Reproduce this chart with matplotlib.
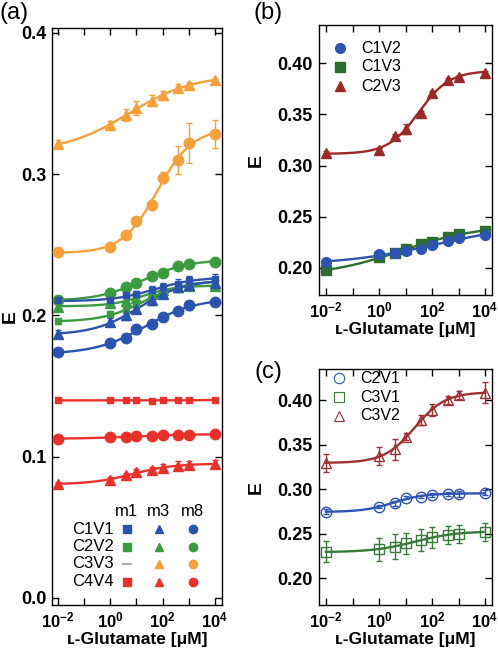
import numpy as np
import matplotlib
matplotlib.use('Agg')
import matplotlib.pyplot as plt

plt.rcParams['font.family'] = ['Liberation Sans', 'DejaVu Sans']
plt.rcParams['mathtext.fontset'] = 'custom'
plt.rcParams['mathtext.bf'] = 'Liberation Sans:bold'
plt.rcParams['mathtext.rm'] = 'Liberation Sans'
plt.rcParams['mathtext.it'] = 'Liberation Sans:italic'

# ---------------- data ----------------
glu = [0.01, 1, 4, 10, 40, 100, 400, 1000, 10000]

# panel (a)
a_c1v1_m1 = [0.2106, 0.2106, 0.2142, 0.2154, 0.2178, 0.2201, 0.2225, 0.2249, 0.2260]
a_c1v1_m3 = [0.1870, 0.1953, 0.2000, 0.2045, 0.2106, 0.2154, 0.2199, 0.2216, 0.2230]
a_c1v1_m8 = [0.1740, 0.1804, 0.1842, 0.1901, 0.1941, 0.1988, 0.2031, 0.2071, 0.2094]
a_c2v2_m1 = [0.1958, 0.2012, 0.2035, 0.2071, 0.2125, 0.2165, 0.2205, 0.2220, 0.2235]
a_c2v2_m3 = [0.2062, 0.2087, 0.2105, 0.2120, 0.2155, 0.2180, 0.2200, 0.2206, 0.2205]
a_c2v2_m8 = [0.2111, 0.2156, 0.2199, 0.2231, 0.2277, 0.2304, 0.2350, 0.2363, 0.2380]
a_c3v3_m3 = [0.3214, 0.3349, 0.3420, 0.3467, 0.3520, 0.3562, 0.3610, 0.3633, 0.3664]
a_c3v3_m8 = [0.2450, 0.2485, 0.2568, 0.2668, 0.2781, 0.2975, 0.3100, 0.3219, 0.3283]
a_c4v4_m1 = [0.1399, 0.1399, 0.1399, 0.1399, 0.1397, 0.1399, 0.1399, 0.1399, 0.1403]
a_c4v4_m3 = [0.0809, 0.0837, 0.0867, 0.0891, 0.0908, 0.0920, 0.0936, 0.0943, 0.0950]
a_c4v4_m8 = [0.1128, 0.1137, 0.1140, 0.1144, 0.1149, 0.1151, 0.1156, 0.1156, 0.1158]

a_err_c1v1_m1 = [0.002, 0.002, 0.002, 0.002, 0.003, 0.003, 0.003, 0.003, 0.003]
a_err_c1v1_m3 = [0.003, 0.003, 0.003, 0.003, 0.003, 0.003, 0.003, 0.003, 0.003]
a_err_c1v1_m8 = [0.001, 0.001, 0.003, 0.003, 0.003, 0.002, 0.002, 0.003, 0.002]
a_err_c2v2_m1 = [0.002, 0.002, 0.003, 0.003, 0.003, 0.003, 0.003, 0.003, 0.003]
a_err_c2v2_m3 = [0.003, 0.002, 0.002, 0.002, 0.002, 0.002, 0.002, 0.002, 0.002]
a_err_c2v2_m8 = [0.003, 0.002, 0.002, 0.002, 0.002, 0.002, 0.003, 0.003, 0.003]
a_err_c3v3_m3 = [0.003, 0.003, 0.004, 0.005, 0.004, 0.003, 0.003, 0.002, 0.002]
a_err_c3v3_m8 = [0.001, 0.001, 0.001, 0.003, 0.003, 0.004, 0.010, 0.014, 0.010]
a_err_c4v4_m1 = [0.001, 0.001, 0.001, 0.001, 0.001, 0.001, 0.001, 0.001, 0.001]
a_err_c4v4_m3 = [0.001, 0.002, 0.002, 0.002, 0.002, 0.003, 0.003, 0.003, 0.003]
a_err_c4v4_m8 = [0.001, 0.001, 0.001, 0.001, 0.001, 0.001, 0.001, 0.001, 0.001]

# panel (b)
b_c1v2 = [0.2059, 0.2131, 0.2147, 0.2160, 0.2180, 0.2222, 0.2261, 0.2287, 0.2320]
b_c1v3 = [0.1977, 0.2101, 0.2141, 0.2180, 0.2232, 0.2254, 0.2303, 0.2330, 0.2362]
b_c2v3 = [0.3120, 0.3150, 0.3289, 0.3355, 0.3511, 0.3707, 0.3837, 0.3870, 0.3909]
b_err_c1v2 = [0.002, 0.002, 0.002, 0.002, 0.002, 0.002, 0.002, 0.002, 0.004]
b_err_c1v3 = [0.002, 0.002, 0.002, 0.002, 0.002, 0.002, 0.002, 0.002, 0.002]
b_err_c2v3 = [0.002, 0.002, 0.002, 0.005, 0.002, 0.002, 0.002, 0.002, 0.002]

# panel (c)
c_c2v1 = [0.2747, 0.2803, 0.2841, 0.2905, 0.2916, 0.2934, 0.2946, 0.2946, 0.2960]
c_c3v1 = [0.2298, 0.2324, 0.2354, 0.2392, 0.2429, 0.2459, 0.2486, 0.2497, 0.2523]
c_c3v2 = [0.3297, 0.3372, 0.3446, 0.3589, 0.3776, 0.3888, 0.4000, 0.4056, 0.4082]
c_err_c2v1 = [0.003, 0.002, 0.003, 0.002, 0.002, 0.002, 0.002, 0.003, 0.003]
c_err_c3v1 = [0.012, 0.013, 0.014, 0.012, 0.012, 0.012, 0.010, 0.010, 0.010]
c_err_c3v2 = [0.010, 0.010, 0.012, 0.004, 0.006, 0.007, 0.005, 0.005, 0.012]

# ---------------- colours ----------------
BLUE = '#2c53ac'
GREEN = '#3c9a40'
ORANGE = '#f4a03c'
RED = '#e8312b'
BLUE_B = '#2d54b0'
GREEN_B = '#2e6e31'
RED_B = '#9a2a28'
GREEN_C = '#3a7a3a'
RED_C = '#9a3232'

YTICK_FS = 13
XTICK_FS = 12
XLAB_FS = 12.5
YLAB_FS = 14
LEG_FS = 12


def hill_fit(x, y):
    lx = np.log10(np.asarray(x, float))
    y = np.asarray(y, float)
    best = None
    for lec in np.linspace(-2.5, 4.5, 141):
        for n in np.linspace(0.2, 2.5, 47):
            f = 1.0 / (1.0 + 10 ** (n * (lec - lx)))
            A = np.vstack([np.ones_like(f), f]).T
            coef, *_ = np.linalg.lstsq(A, y, rcond=None)
            r = np.sum((A @ coef - y) ** 2)
            if best is None or r < best[0]:
                best = (r, lec, n, coef)
    _, lec, n, coef = best
    xs = np.logspace(-2, 4, 300)
    fs = 1.0 / (1.0 + 10 ** (n * (lec - np.log10(xs))))
    return xs, coef[0] + coef[1] * fs


def series(ax, x, y, err, color, marker, ms, fill=True, lw=1.7, mew=1.0):
    xs, ys = hill_fit(x, y)
    ax.plot(xs, ys, '-', color=color, lw=lw, zorder=2)
    ax.errorbar(x, y, yerr=err, fmt='none', ecolor=color, elinewidth=1.0,
                capsize=2.5, capthick=1.0, zorder=3)
    if fill:
        ax.plot(x, y, linestyle='none', marker=marker, ms=ms, color=color,
                mec=color, zorder=4)
    else:
        ax.plot(x, y, linestyle='none', marker=marker, ms=ms, mfc='none',
                mec=color, mew=mew, zorder=4)


def style_axes(ax, xl, yl, yticks, ylabels):
    ax.set_xscale('log')
    ax.set_xlim(10 ** xl[0], 10 ** xl[1])
    ax.set_ylim(*yl)
    decades = [10.0 ** k for k in range(-2, 5)]
    ax.set_xticks(decades)
    labs = []
    for k in range(-2, 5):
        if k % 2 == 0:
            labs.append(r'$\mathbf{10^{%d}}$' % k)
        else:
            labs.append('')
    ax.set_xticklabels(labs)
    ax.xaxis.set_minor_locator(matplotlib.ticker.NullLocator())
    ax.set_yticks(yticks)
    ax.set_yticklabels(ylabels)
    ax.tick_params(direction='in', top=True, right=True, length=5, width=1,
                   pad=4)
    ax.tick_params(axis='y', labelsize=YTICK_FS)
    ax.tick_params(axis='x', labelsize=XTICK_FS)
    for lab in ax.get_yticklabels():
        lab.set_fontweight('bold')
    for sp in ax.spines.values():
        sp.set_linewidth(1.0)
    ax.set_xlabel('ʟ-Glutamate [μM]', fontsize=XLAB_FS, fontweight='bold',
                  labelpad=1)
    ax.set_ylabel('E', fontsize=YLAB_FS, fontweight='bold')


fig = plt.figure(figsize=(4.98, 6.52), dpi=100)

# ---------------- panel (a) ----------------
axa = fig.add_axes([52 / 498, 47 / 652, 170 / 498, 577 / 652])
series(axa, glu, a_c3v3_m3, a_err_c3v3_m3, ORANGE, '^', 7.5)
series(axa, glu, a_c3v3_m8, a_err_c3v3_m8, ORANGE, 'o', 7.5)
series(axa, glu, a_c2v2_m8, a_err_c2v2_m8, GREEN, 'o', 7.5)
series(axa, glu, a_c2v2_m3, a_err_c2v2_m3, GREEN, '^', 7.0)
series(axa, glu, a_c2v2_m1, a_err_c2v2_m1, GREEN, 's', 5.0)
series(axa, glu, a_c1v1_m1, a_err_c1v1_m1, BLUE, 's', 5.0)
series(axa, glu, a_c1v1_m3, a_err_c1v1_m3, BLUE, '^', 7.0)
series(axa, glu, a_c1v1_m8, a_err_c1v1_m8, BLUE, 'o', 7.5)
series(axa, glu, a_c4v4_m1, a_err_c4v4_m1, RED, 's', 5.0)
series(axa, glu, a_c4v4_m8, a_err_c4v4_m8, RED, 'o', 7.5)
series(axa, glu, a_c4v4_m3, a_err_c4v4_m3, RED, '^', 7.0)
style_axes(axa, (-2.23, 4.27), (-0.005, 0.4035),
           [0.0, 0.1, 0.2, 0.3, 0.4], ['0.0', '0.1', '0.2', '0.3', '0.4'])
axa.yaxis.set_label_coords(-0.195, 0.5)

# legend table for (a)
leg_rows = ['C1V1', 'C2V2', 'C3V3', 'C4V4']
leg_cols = ['m1', 'm3', 'm8']
leg_colors = [BLUE, GREEN, ORANGE, RED]
col_x = [0.441, 0.629, 0.829]
row_y = [0.1317, 0.101, 0.0711, 0.0404]
for cx, cname in zip(col_x, leg_cols):
    axa.text(cx, 0.1617, cname, transform=axa.transAxes, ha='center',
             va='center', fontsize=LEG_FS)
for ry, rname, col in zip(row_y, leg_rows, leg_colors):
    axa.text(0.116, ry, rname, transform=axa.transAxes, ha='left',
             va='center', fontsize=LEG_FS)
    for cx, mk in zip(col_x, ['s', '^', 'o']):
        if rname == 'C3V3' and mk == 's':
            axa.plot([cx - 0.025, cx + 0.025], [ry, ry], color='#aaaaaa',
                     lw=1.5, transform=axa.transAxes, clip_on=False)
        else:
            axa.plot([cx], [ry], marker=mk, ms=6, color=col, linestyle='none',
                     transform=axa.transAxes, clip_on=False)

# ---------------- panel (b) ----------------
axb = fig.add_axes([318.5 / 498, 357 / 652, 173 / 498, 270 / 652])
series(axb, glu, b_c2v3, b_err_c2v3, RED_B, '^', 7.0)
series(axb, glu, b_c1v3, b_err_c1v3, GREEN_B, 's', 6.5)
series(axb, glu, b_c1v2, b_err_c1v2, BLUE_B, 'o', 7.0)
style_axes(axb, (-2.283, 4.245), (0.1733, 0.4375),
           [0.20, 0.25, 0.30, 0.35, 0.40], ['0.20', '0.25', '0.30', '0.35', '0.40'])
axb.yaxis.set_label_coords(-0.31, 0.5)
for ry, name, col, mk in zip([0.914, 0.846, 0.774], ['C1V2', 'C1V3', 'C2V3'],
                             [BLUE_B, GREEN_B, RED_B], ['o', 's', '^']):
    axb.plot([0.124], [ry], marker=mk, ms=7, color=col, linestyle='none',
             transform=axb.transAxes)
    axb.text(0.25, ry, name, transform=axb.transAxes, ha='left', va='center',
             fontsize=11.5)

# ---------------- panel (c) ----------------
axc = fig.add_axes([318.5 / 498, 47 / 652, 173 / 498, 236 / 652])
series(axc, glu, c_c3v2, c_err_c3v2, RED_C, '^', 7.5, fill=False)
series(axc, glu, c_c2v1, c_err_c2v1, BLUE_B, 'o', 7.5, fill=False)
series(axc, glu, c_c3v1, c_err_c3v1, GREEN_C, 's', 7.5, fill=False)
style_axes(axc, (-2.283, 4.245), (0.170, 0.4348),
           [0.20, 0.25, 0.30, 0.35, 0.40], ['0.20', '0.25', '0.30', '0.35', '0.40'])
axc.yaxis.set_label_coords(-0.31, 0.5)
for ry, name, col, mk in zip([0.961, 0.880, 0.801], ['C2V1', 'C3V1', 'C3V2'],
                             [BLUE_B, GREEN_C, RED_C], ['o', 's', '^']):
    axc.plot([0.118], [ry], marker=mk, ms=7.5, mfc='none', mec=col, mew=0.8,
             linestyle='none', transform=axc.transAxes)
    axc.text(0.242, ry, name, transform=axc.transAxes, ha='left', va='center',
             fontsize=11.5)

# panel labels
fig.text(14 / 498, 1 - 13 / 652, '(a)', fontsize=17, ha='center', va='center')
fig.text(268 / 498, 1 - 13 / 652, '(b)', fontsize=17, ha='center', va='center')
fig.text(268 / 498, 1 - 372 / 652, '(c)', fontsize=17, ha='center', va='center')

fig.savefig('out.png', dpi=100)
